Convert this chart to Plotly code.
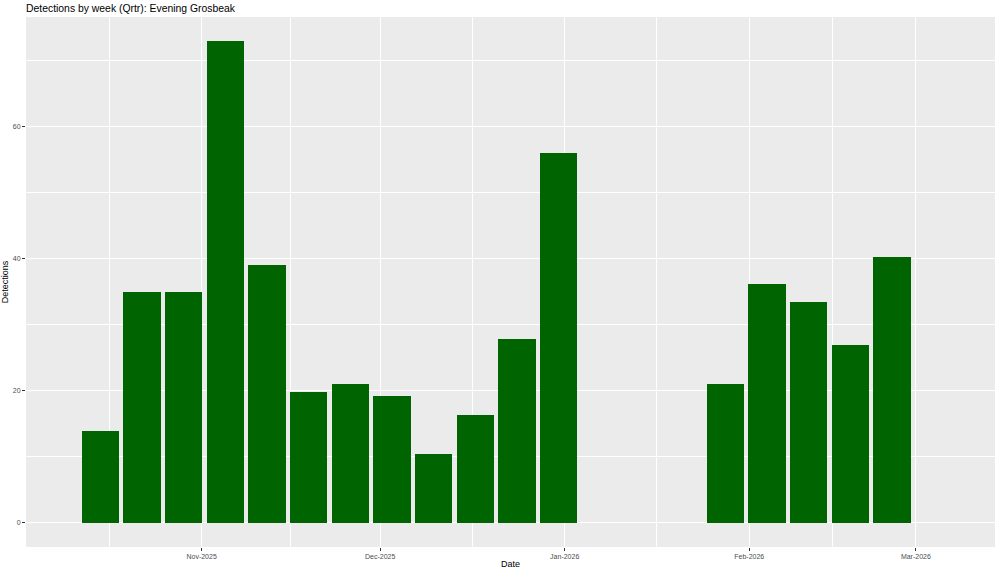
import plotly.graph_objects as go
import pandas as pd

# Data
week_dates = ["2025-10-15", "2025-10-22", "2025-10-29", "2025-11-05", "2025-11-12",
              "2025-11-19", "2025-11-26", "2025-12-03", "2025-12-10", "2025-12-17",
              "2025-12-24", "2025-12-31",
              "2026-01-28", "2026-02-04", "2026-02-11", "2026-02-18", "2026-02-25"]
detections = [13.9, 34.9, 34.9, 72.9, 39.0, 19.8, 21.0, 19.2, 10.5, 16.3, 27.9, 55.9,
              21.0, 36.1, 33.5, 26.9, 40.2]
x_tick_vals = ["2025-11-01", "2025-12-01", "2026-01-01", "2026-02-01", "2026-03-01"]
x_tick_text = ["Nov-2025", "Dec-2025", "Jan-2026", "Feb-2026", "Mar-2026"]
x_minor_vals = ["2025-10-16 12:00", "2025-11-16", "2025-12-16 12:00", "2026-01-16 12:00", "2026-02-15"]
y_tick_vals = [0, 20, 40, 60]
y_minor_vals = [10, 30, 50, 70]

bar_width_ms = 0.9 * 7 * 86400000

fig = go.Figure()
fig.add_trace(go.Bar(
    x=pd.to_datetime(week_dates),
    y=detections,
    width=[bar_width_ms] * len(week_dates),
    marker=dict(color="#006400", line=dict(width=0)),
    showlegend=False,
))

fig.update_layout(
    width=1000, height=573,
    margin=dict(l=26, r=5, t=17.3, b=25.7),
    paper_bgcolor="white",
    plot_bgcolor="#EBEBEB",
    font=dict(family="Liberation Sans, Arial, sans-serif", color="black"),
    title=dict(text="Detections by week (Qrtr): Evening Grosbeak",
               x=26 / 1000, xanchor="left", xref="container",
               y=1 - 8.5 / 573, yanchor="middle", yref="container",
               font=dict(size=10.4, color="black")),
    bargap=0,
)

fig.update_xaxes(
    type="date",
    range=["2025-10-02 12:00", "2026-03-14 07:00"],
    tickmode="array", tickvals=x_tick_vals, ticktext=x_tick_text,
    tickfont=dict(size=7, color="#4D4D4D"),
    ticks="outside", ticklen=3, tickcolor="#333333", tickwidth=1,
    showgrid=True, gridcolor="white", gridwidth=1.1,
    minor=dict(tickvals=x_minor_vals, showgrid=True, gridcolor="white", gridwidth=0.55, ticks=""),
    zeroline=False, showline=False,
    title=dict(text="Date", font=dict(size=9, color="black"), standoff=1),
    automargin=False,
)
fig.update_yaxes(
    range=[-3.645, 76.545],
    tickmode="array", tickvals=y_tick_vals,
    tickfont=dict(size=7, color="#4D4D4D"),
    ticks="outside", ticklen=3, tickcolor="#333333", tickwidth=1,
    showgrid=True, gridcolor="white", gridwidth=1.1,
    minor=dict(tickvals=y_minor_vals, showgrid=True, gridcolor="white", gridwidth=0.55, ticks=""),
    zeroline=False, showline=False,
    title=dict(text="Detections", font=dict(size=9, color="black"), standoff=5),
    automargin=False,
)

fig.write_html("out.html", config={"displayModeBar": False},
               post_script="document.body.style.margin='0';")
